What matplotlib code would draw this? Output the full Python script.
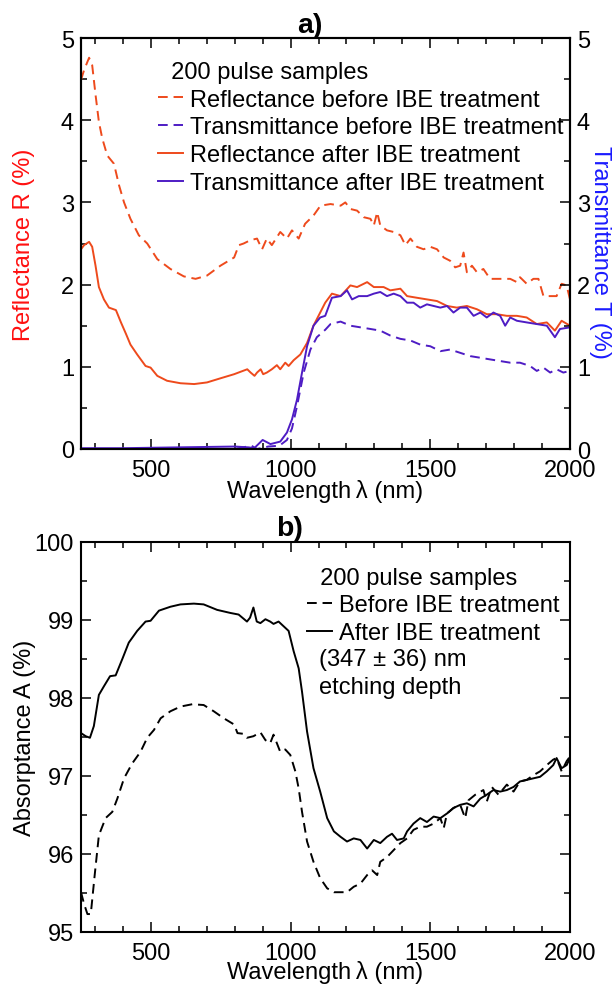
import numpy as np
import matplotlib
matplotlib.use('Agg')
import matplotlib.pyplot as plt
from matplotlib.ticker import MultipleLocator

plt.rcParams['font.family'] = ['Liberation Sans', 'DejaVu Sans']
plt.rcParams['font.size'] = 17

# ---- panel a) data (read off the figure) ----
wl_r_before = [250, 261, 279, 290, 302, 314, 326, 344, 368, 386, 404, 427, 457, 487, 523, 570, 618, 660, 701, 749,
               798, 815, 832, 856, 880, 898, 915, 933, 963, 987, 1005, 1029, 1052, 1082, 1107, 1143, 1179, 1196,
               1214, 1238, 1262, 1286, 1298, 1310, 1321, 1345, 1369, 1393, 1411, 1429, 1452, 1476, 1500, 1524,
               1548, 1571, 1589, 1607, 1619, 1631, 1649, 1667, 1690, 1714, 1738, 1762, 1786, 1810, 1821, 1845,
               1869, 1887, 1905, 1929, 1952, 1970, 1988, 2000]
r_before = [4.49, 4.61, 4.76, 4.67, 4.31, 3.98, 3.78, 3.57, 3.47, 3.21, 3.00, 2.80, 2.60, 2.50, 2.31, 2.19, 2.10,
            2.07, 2.11, 2.23, 2.33, 2.48, 2.50, 2.54, 2.56, 2.43, 2.56, 2.48, 2.64, 2.56, 2.66, 2.56, 2.74, 2.84,
            2.96, 2.98, 2.96, 3.00, 2.92, 2.90, 2.82, 2.80, 2.72, 2.88, 2.72, 2.66, 2.64, 2.60, 2.48, 2.56, 2.46,
            2.43, 2.46, 2.43, 2.33, 2.29, 2.21, 2.23, 2.39, 2.15, 2.23, 2.15, 2.19, 2.07, 2.07, 2.07, 2.07, 2.03,
            2.09, 2.01, 2.07, 2.07, 1.86, 1.86, 1.86, 2.01, 1.99, 1.82]

wl_r_after = [250, 261, 279, 290, 302, 314, 332, 350, 375, 393, 411, 427, 451, 481, 499, 523, 558, 606, 655, 701,
              749, 798, 845, 857, 871, 880, 893, 902, 915, 933, 951, 963, 981, 993, 1011, 1035, 1059, 1082, 1106,
              1124, 1148, 1179, 1214, 1238, 1274, 1298, 1333, 1357, 1393, 1417, 1452, 1488, 1524, 1560, 1595,
              1631, 1667, 1702, 1738, 1774, 1810, 1845, 1881, 1917, 1946, 1970, 2000]
r_after = [2.43, 2.48, 2.52, 2.46, 2.23, 1.97, 1.82, 1.72, 1.69, 1.54, 1.40, 1.27, 1.15, 1.01, 0.99, 0.89, 0.83,
           0.80, 0.79, 0.81, 0.86, 0.91, 0.97, 0.93, 0.89, 0.93, 0.97, 0.91, 0.93, 0.97, 1.02, 0.97, 1.05, 1.01,
           1.08, 1.15, 1.29, 1.50, 1.66, 1.78, 1.89, 1.86, 1.99, 1.97, 2.03, 1.97, 1.97, 1.93, 1.95, 1.86, 1.84,
           1.82, 1.80, 1.74, 1.72, 1.74, 1.70, 1.64, 1.64, 1.62, 1.62, 1.60, 1.52, 1.54, 1.44, 1.56, 1.50]

wl_t_before = [250, 500, 800, 860, 880, 920, 960, 987, 1005, 1023, 1047, 1071, 1094, 1124, 1143, 1179, 1214, 1250,
               1286, 1321, 1357, 1393, 1429, 1464, 1500, 1536, 1571, 1607, 1643, 1679, 1714, 1750, 1786, 1821,
               1857, 1881, 1905, 1929, 1952, 1976, 2000]
t_before = [0.0, 0.0, 0.0, 0.04, 0.0, 0.03, 0.04, 0.11, 0.25, 0.52, 0.93, 1.21, 1.36, 1.45, 1.52, 1.55, 1.50, 1.48,
            1.46, 1.44, 1.38, 1.34, 1.32, 1.27, 1.25, 1.19, 1.21, 1.17, 1.13, 1.11, 1.09, 1.07, 1.05, 1.05, 1.01,
            0.95, 0.99, 0.93, 0.97, 0.93, 0.95]

wl_t_after = [250, 400, 600, 800, 850, 870, 900, 928, 963, 987, 1005, 1023, 1041, 1059, 1082, 1106, 1124, 1148,
              1179, 1202, 1220, 1244, 1274, 1298, 1321, 1345, 1369, 1393, 1417, 1440, 1464, 1488, 1512, 1536,
              1560, 1583, 1607, 1631, 1655, 1679, 1702, 1726, 1750, 1768, 1786, 1810, 1845, 1881, 1917, 1946,
              1964, 2000]
t_after = [0.01, 0.01, 0.02, 0.03, 0.02, 0.01, 0.11, 0.06, 0.09, 0.20, 0.36, 0.60, 0.93, 1.25, 1.50, 1.60, 1.62,
           1.84, 1.86, 1.93, 1.82, 1.86, 1.86, 1.89, 1.91, 1.86, 1.89, 1.86, 1.78, 1.78, 1.72, 1.76, 1.74, 1.72,
           1.74, 1.66, 1.72, 1.72, 1.62, 1.66, 1.60, 1.66, 1.62, 1.50, 1.60, 1.56, 1.54, 1.52, 1.50, 1.36, 1.46,
           1.48]

# ---- panel b) data ----
wl_a_after = [250, 267, 282, 296, 314, 332, 354, 374, 399, 421, 451, 481, 499, 529, 570, 606, 654, 689, 737, 785,
              814, 844, 855, 867, 879, 892, 910, 927, 939, 957, 975, 993, 1011, 1029, 1041, 1059, 1082, 1106, 1131,
              1155, 1179, 1202, 1226, 1250, 1274, 1298, 1321, 1345, 1363, 1381, 1405, 1417, 1440, 1464, 1488,
              1512, 1536, 1560, 1583, 1607, 1631, 1655, 1679, 1702, 1726, 1750, 1774, 1798, 1821, 1845, 1869,
              1893, 1917, 1940, 1952, 1970, 1988, 2000]
a_after = [97.55, 97.51, 97.49, 97.64, 98.04, 98.15, 98.28, 98.29, 98.51, 98.71, 98.86, 98.98, 98.99, 99.12, 99.17,
           99.20, 99.21, 99.20, 99.13, 99.09, 99.07, 98.98, 99.03, 99.16, 98.98, 98.96, 99.01, 98.98, 98.95, 98.98,
           98.92, 98.86, 98.60, 98.38, 98.08, 97.57, 97.10, 96.80, 96.46, 96.29, 96.22, 96.16, 96.20, 96.18, 96.07,
           96.18, 96.14, 96.22, 96.26, 96.18, 96.20, 96.29, 96.39, 96.46, 96.41, 96.48, 96.46, 96.52, 96.59, 96.63,
           96.65, 96.61, 96.71, 96.76, 96.82, 96.80, 96.82, 96.86, 96.93, 96.95, 96.97, 96.99, 97.06, 97.14, 97.23,
           97.10, 97.14, 97.23]

wl_a_before = [250, 261, 273, 285, 299, 314, 338, 362, 380, 404, 433, 463, 487, 511, 535, 570, 606, 648, 689, 725,
               761, 798, 810, 833, 844, 867, 892, 910, 927, 939, 963, 981, 999, 1017, 1029, 1041, 1059, 1082, 1106,
               1131, 1155, 1179, 1202, 1226, 1250, 1274, 1292, 1310, 1321, 1345, 1369, 1393, 1417, 1440, 1464,
               1488, 1512, 1536, 1548, 1560, 1583, 1607, 1625, 1637, 1661, 1690, 1702, 1720, 1744, 1774, 1798,
               1821, 1845, 1869, 1893, 1917, 1940, 1952, 1970, 1988, 2000]
a_before = [95.51, 95.36, 95.23, 95.23, 95.73, 96.24, 96.46, 96.54, 96.71, 96.97, 97.16, 97.31, 97.49, 97.59, 97.74,
            97.83, 97.89, 97.92, 97.91, 97.83, 97.74, 97.66, 97.55, 97.54, 97.49, 97.51, 97.56, 97.46, 97.42, 97.53,
            97.31, 97.34, 97.27, 97.06, 96.84, 96.54, 96.16, 95.90, 95.69, 95.56, 95.51, 95.51, 95.51, 95.58, 95.62,
            95.73, 95.79, 95.73, 95.90, 95.96, 96.05, 96.14, 96.20, 96.31, 96.35, 96.35, 96.39, 96.46, 96.33, 96.52,
            96.59, 96.63, 96.46, 96.69, 96.76, 96.82, 96.67, 96.86, 96.76, 96.89, 96.80, 96.93, 96.95, 97.01, 97.06,
            97.14, 97.21, 97.23, 97.06, 97.19, 97.25]

c_refl = '#EE4A1C'
c_trans = '#4E1CC4'
dash = (0, (5, 3))
lw = 1.4
leg_kw = dict(title_fontsize=17, alignment='left', loc='upper left', frameon=False, borderpad=0,
              borderaxespad=0, handlelength=1.06, handletextpad=0.3, labelspacing=0.25)


def style(ax, right=True):
    ax.tick_params(which='both', direction='in', top=True, right=right, width=1.1, pad=5)
    ax.tick_params(axis='x', which='both', pad=7)
    ax.tick_params(which='major', length=7)
    ax.tick_params(which='minor', length=4)
    for s in ax.spines.values():
        s.set_linewidth(1.5)


fig = plt.figure(figsize=(6.14, 9.87), dpi=100)
ax1 = fig.add_axes([81 / 614, 1 - 450 / 987, 489 / 614, 411 / 987])
ax3 = fig.add_axes([81 / 614, 1 - 933 / 987, 489 / 614, 390 / 987])

# ---- a) ----
ax2 = ax1.twinx()
l1, = ax1.plot(wl_r_before, r_before, color=c_refl, lw=lw, ls=dash)
l3, = ax1.plot(wl_r_after, r_after, color=c_refl, lw=lw)
l2, = ax2.plot(wl_t_before, t_before, color=c_trans, lw=lw, ls=dash)
l4, = ax2.plot(wl_t_after, t_after, color=c_trans, lw=lw)

for ax in (ax1, ax2):
    ax.set_xlim(250, 2000)
    ax.set_ylim(0, 5)
    ax.xaxis.set_major_locator(MultipleLocator(500))
    ax.xaxis.set_minor_locator(MultipleLocator(100))
    ax.yaxis.set_major_locator(MultipleLocator(1))
    ax.yaxis.set_minor_locator(MultipleLocator(0.5))
style(ax1, right=False)
ax2.tick_params(which='both', direction='in', width=1.1, pad=5)
ax2.tick_params(which='major', length=7)
ax2.tick_params(which='minor', length=4)
for s in ax2.spines.values():
    s.set_linewidth(1.5)

ax1.set_xlabel('Wavelength\u2009λ (nm)', labelpad=-1)
ax1.set_ylabel('Reflectance R (%)', color='#FF1010')
ax1.yaxis.set_label_coords(-0.094, 0.5)
ax2.set_ylabel('Transmittance T (%)', color='#1A1AFF', rotation=270, va='bottom')
ax2.yaxis.set_label_coords(1.039, 0.48)
ax1.set_title('a)', fontweight='bold', x=0.468, pad=3)

ax2.legend([l1, l2, l3, l4],
           ['Reflectance before IBE treatment', 'Transmittance before IBE treatment',
            'Reflectance after IBE treatment', 'Transmittance after IBE treatment'],
           title='  200 pulse samples', bbox_to_anchor=(0.157, 0.945), **leg_kw)

# ---- b) ----
b1, = ax3.plot(wl_a_before, a_before, color='black', lw=lw, ls=dash)
b2, = ax3.plot(wl_a_after, a_after, color='black', lw=lw)
ax3.set_xlim(250, 2000)
ax3.set_ylim(95, 100)
ax3.xaxis.set_major_locator(MultipleLocator(500))
ax3.xaxis.set_minor_locator(MultipleLocator(100))
ax3.yaxis.set_major_locator(MultipleLocator(1))
ax3.yaxis.set_minor_locator(MultipleLocator(0.5))
style(ax3)
ax3.set_xlabel('Wavelength\u2009λ (nm)', labelpad=-3)
ax3.set_ylabel('Absorptance A (%)')
ax3.yaxis.set_label_coords(-0.092, 0.5)
ax3.set_title('b)', fontweight='bold', x=0.427, pad=5)

ax3.legend([b1, b2], ['Before IBE treatment', 'After IBE treatment'],
           title='  200 pulse samples', bbox_to_anchor=(0.462, 0.937), **leg_kw)
ax3.text(0.487, 0.70, '(347 ± 36) nm', transform=ax3.transAxes, va='center', ha='left')
ax3.text(0.487, 0.628, 'etching depth', transform=ax3.transAxes, va='center', ha='left')

fig.savefig('out.png', dpi=100)
